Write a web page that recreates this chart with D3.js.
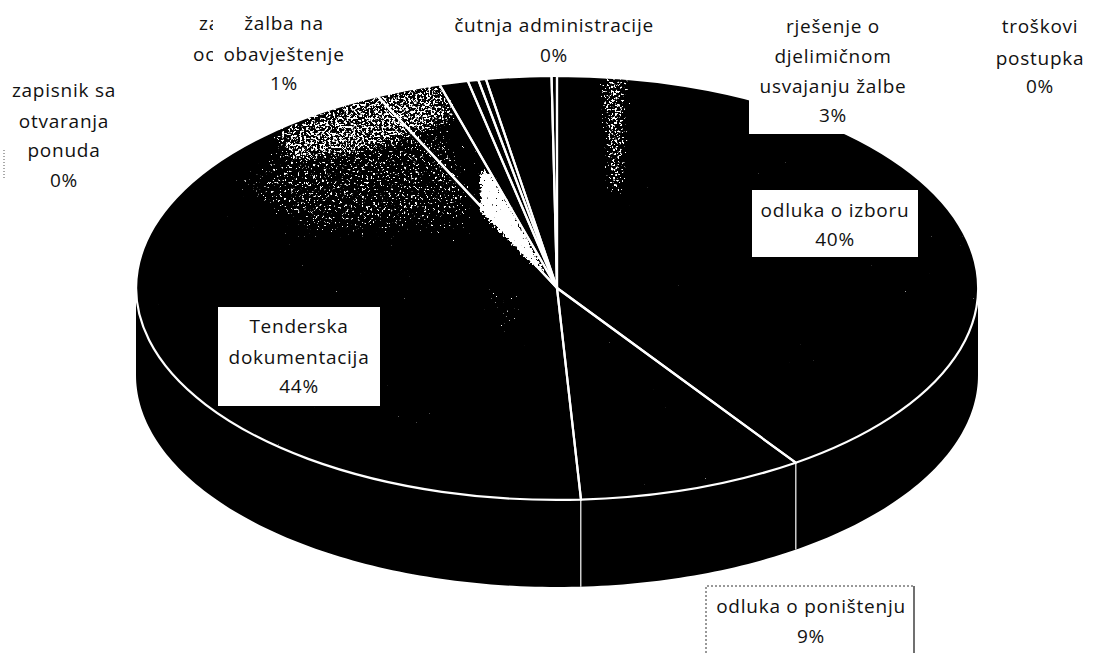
<!DOCTYPE html>
<html>
<head>
<meta charset="utf-8">
<title>Pie</title>
<script src="https://cdn.jsdelivr.net/npm/d3@7/dist/d3.min.js"></script>
<style>
  html, body { margin: 0; padding: 0; background: #fff; }
  text { font-family: "Open Sans", "Noto Sans", sans-serif; font-size: 19px; letter-spacing: 0.75px; fill: #111; text-anchor: middle; }
</style>
</head>
<body>
<svg id="chart" width="1105" height="653"></svg>
<script>
// ── Data ─────────────────────────────────────────────────────────────────────

// clockwise from 12 o'clock, shares
const sliceNames = [
  "odluka o izboru", "odluka o poništenju", "Tenderska dokumentacija",
  "za... oc...", "žalba na obavještenje", "zapisnik sa otvaranja ponuda",
  "čutnja administracije", "rješenje o djelimičnom usvajanju žalbe", "troškovi postupka",
];
const sliceValues = [40.4, 8.7, 43.9, 2.5, 1.1, 0.4, 0.3, 2.5, 0.2];

// label lines, same order as sliceNames
const labelLines = [
  ["odluka o izboru"],
  ["odluka o poništenju"],
  ["Tenderska", "dokumentacija"],
  ["za", "oc"],
  ["žalba na", "obavještenje"],
  ["zapisnik sa", "otvaranja", "ponuda"],
  ["čutnja administracije"],
  ["rješenje o", "djelimičnom", "usvajanju žalbe"],
  ["troškovi", "postupka"],
];

// ── Layout ───────────────────────────────────────────────────────────────────

const cx = 557, cy = 288, rx = 421, ry = 212, depth = 87;

// where each label sits: baseline of each line, optional white box behind it
const labelPlaces = [
  { x: 835, ys: [217, 246], box: [752, 190, 166, 67] },
  { x: 811, ys: [613, 643], box: [706, 586, 208, 67], framed: true },
  { x: 299, ys: [333, 364, 393], box: [218, 307, 162, 99] },
  { x: 0, ys: [30, 61], anchors: [199, 193], noPct: true },
  { x: 284, ys: [30, 61, 90], box: [213, 8, 140, 90] },
  { x: 64, ys: [97, 128, 157, 187] },
  { x: 554, ys: [32, 62] },
  { x: 833, ys: [33, 63, 93, 122], box: [749, 0, 99, 134] },
  { x: 1040, ys: [33, 65, 93] },
];

// ── Pie ──────────────────────────────────────────────────────────────────────

const svg = d3.select("#chart");
const defs = svg.append("defs");

const xScale = d3.scaleLinear().domain([-1, 1]).range([cx - rx, cx + rx]);
const yScale = d3.scaleLinear().domain([-1, 1]).range([cy - ry, cy + ry]);

const slices = d3.pie().sort(null).startAngle(0).endAngle(2 * Math.PI)(sliceValues);
const arc = d3.arc().innerRadius(0).outerRadius(1);

// side wall, front half only
const sideArea = d3.area()
  .x((a) => xScale(Math.sin(a)))
  .y0((a) => yScale(-Math.cos(a)))
  .y1((a) => yScale(-Math.cos(a)) + depth);

svg.append("path")
  .datum(d3.range(90, 270.5, 1).map((deg) => deg * Math.PI / 180))
  .attr("d", sideArea)
  .attr("fill", "#000");

// slice seams running down the wall
svg.append("g")
  .selectAll("line")
  .data(slices.filter((d) => Math.cos(d.endAngle) < 0))
  .join("line")
  .attr("x1", (d) => xScale(Math.sin(d.endAngle)))
  .attr("x2", (d) => xScale(Math.sin(d.endAngle)))
  .attr("y1", (d) => yScale(-Math.cos(d.endAngle)))
  .attr("y2", (d) => yScale(-Math.cos(d.endAngle)) + depth)
  .attr("stroke", "#fff")
  .attr("stroke-width", 1.2);

// ── Scan speckle on the top face ─────────────────────────────────────────────

defs.append("clipPath").attr("id", "face-clip")
  .append("ellipse").attr("cx", cx).attr("cy", cy).attr("rx", rx).attr("ry", ry);

function speckleFilter(id, blur, seed, strength) {
  const f = defs.append("filter").attr("id", id)
    .attr("filterUnits", "userSpaceOnUse")
    .attr("x", 0).attr("y", 0).attr("width", 1105).attr("height", 653)
    .attr("color-interpolation-filters", "sRGB");
  f.append("feGaussianBlur").attr("in", "SourceAlpha").attr("stdDeviation", blur).attr("result", "field");
  f.append("feTurbulence").attr("type", "fractalNoise").attr("baseFrequency", 0.45)
    .attr("numOctaves", 2).attr("seed", seed).attr("result", "noise");
  f.append("feColorMatrix").attr("in", "noise")
    .attr("values", "0 0 0 0 0  0 0 0 0 0  0 0 0 0 0  1 0 0 0 0").attr("result", "grain");
  f.append("feComposite").attr("in", "grain").attr("in2", "field").attr("operator", "arithmetic")
    .attr("k1", 0).attr("k2", 1).attr("k3", strength).attr("k4", -0.36).attr("result", "mix");
  f.append("feColorMatrix").attr("in", "mix")
    .attr("values", "0 0 0 0 1  0 0 0 0 1  0 0 0 0 1  0 0 0 16 -8.5");
}
speckleFilter("speckle-soft", 14, 7, 0.27);
speckleFilter("speckle-rim", 6, 11, 0.38);
speckleFilter("speckle-wedge", 2, 3, 0.7);

const speckleGroups = [
  { filter: "speckle-soft", patches: [
    "M230,180 L330,105 L440,85 L470,170 L480,230 L300,240 Z",
    "M490,290 L520,290 L520,340 L490,340 Z",
  ] },
  { filter: "speckle-rim", patches: [
    "M270,130 L360,95 L440,78 L460,120 L380,150 L290,165 Z",
    "M600,75 L628,75 L624,195 L608,195 Z",
  ] },
  { filter: "speckle-wedge", patches: [
    "M480,168 L492,175 L515,215 L548,278 L525,258 L480,212 Z",
  ] },
];

// top face, speckle goes first so the white seams stay clean on top
const faceTransform = `translate(${cx},${cy}) scale(${rx},${ry})`;

svg.append("g")
  .attr("transform", faceTransform)
  .selectAll("path")
  .data(slices)
  .join("path")
  .attr("d", arc)
  .attr("fill", "#000");

const speckle = svg.append("g").attr("clip-path", "url(#face-clip)");
speckleGroups.forEach((group) => {
  speckle.append("g").attr("filter", `url(#${group.filter})`)
    .selectAll("path")
    .data(group.patches)
    .join("path")
    .attr("d", (d) => d)
    .attr("fill", "#fff");
});

svg.append("g")
  .attr("transform", faceTransform)
  .selectAll("path")
  .data(slices)
  .join("path")
  .attr("d", arc)
  .attr("fill", "none")
  .attr("stroke", "#fff")
  .attr("stroke-width", 2.2)
  .attr("stroke-linejoin", "round")
  .attr("vector-effect", "non-scaling-stroke");

// ── Labels ───────────────────────────────────────────────────────────────────

const labels = svg.append("g");

// hidden "za / oc" label goes first so the žalba box can cut it off
const drawOrder = [3, 0, 1, 2, 4, 5, 6, 7, 8];

drawOrder.forEach((i) => {
  const place = labelPlaces[i];
  const g = labels.append("g");
  if (place.box) {
    const [bx, by, bw, bh] = place.box;
    g.append("rect").attr("x", bx).attr("y", by).attr("width", bw).attr("height", bh)
      .attr("fill", "#fff");
    if (place.framed) {
      g.append("path")
        .attr("d", `M${bx},${by + bh} V${by} H${bx + bw}`)
        .attr("fill", "none").attr("stroke", "#333").attr("stroke-dasharray", "2,2");
      g.append("path")
        .attr("d", `M${bx + bw},${by} V${by + bh}`)
        .attr("fill", "none").attr("stroke", "#111").attr("stroke-width", 1.2);
    }
  }
  const lines = place.noPct ? labelLines[i] : [...labelLines[i], `${Math.round(sliceValues[i])}%`];
  g.selectAll("text")
    .data(lines)
    .join("text")
    .attr("x", (d, j) => place.anchors ? place.anchors[j] : place.x)
    .attr("y", (d, j) => place.ys[j])
    .style("text-anchor", place.anchors ? "start" : "middle")
    .text((d) => d);
});

// dotted scan leftover at the left margin
svg.append("line")
  .attr("x1", 4).attr("x2", 4).attr("y1", 150).attr("y2", 180)
  .attr("stroke", "#555").attr("stroke-dasharray", "1,2");
</script>
</body>
</html>
